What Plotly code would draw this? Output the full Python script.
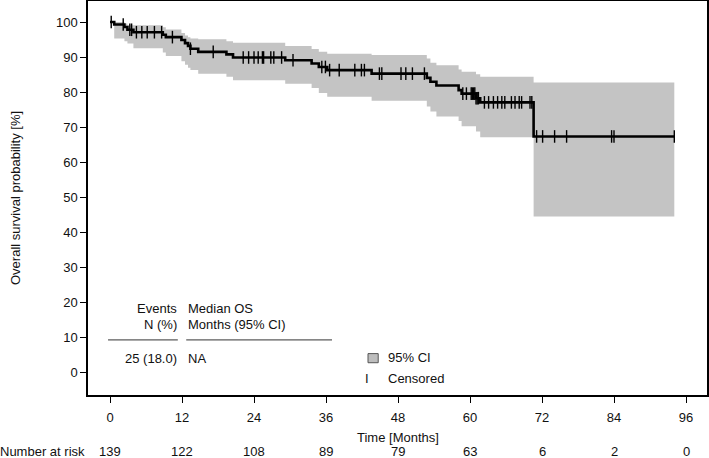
import numpy as np
import plotly.graph_objects as go

# ---- data ----
step_times = [0, 0.7, 2.4, 2.9, 3.9, 8.8, 9.3, 11.9, 12.5, 13.0, 13.4, 14.7, 19.4, 20.5,
              29.2, 33.6, 34.8, 36.2, 43.6, 52.8, 53.4, 54.4, 58.1, 58.6, 61.0, 61.7, 70.6]
surv = [100, 99.3, 98.6, 97.8, 97.1, 96.4, 95.7, 94.9, 94.0, 93.2, 92.4, 91.5, 90.8, 89.9,
        89.1, 88.2, 87.2, 86.3, 85.3, 84.1, 83.0, 81.9, 80.6, 79.6, 78.3, 77.1, 67.4]
ci_lower = [100, 95.3, 94.5, 93.9, 92.5, 91.3, 90.3, 88.8, 87.8, 87.0, 86.3, 85.3, 84.4, 83.4,
            82.4, 81.2, 79.8, 78.7, 77.6, 75.9, 74.5, 73.1, 71.8, 70.3, 68.8, 67.2, 44.6]
ci_upper = [100, 100, 99.6, 99.1, 99.1, 98.5, 97.9, 96.9, 96.2, 95.7, 95.3, 95.1, 94.5, 94.1,
            93.2, 92.3, 91.5, 91.0, 90.6, 89.6, 88.4, 87.7, 86.5, 85.8, 85.1, 84.4, 82.8]
t_end = 94.05
censor_times = [0.2, 2.2, 3.3, 3.6, 4.4, 5.3, 6.2, 7.4, 8.6, 10.4, 13.4, 17.2, 22.2, 23.1,
                24.0, 24.7, 25.4, 25.6, 26.8, 27.3, 28.6, 30.5, 35.3, 35.9, 36.6, 38.2,
                40.8, 41.9, 42.4, 44.9, 45.3, 48.5, 49.3, 50.4, 52.4, 58.8, 59.4, 60.2,
                60.4, 60.6, 60.8, 61.0, 61.2, 61.4, 62.4, 63.1, 63.9, 64.6, 65.3, 65.8,
                66.9, 67.5, 68.2, 68.6, 70.0, 70.3, 71.1, 72.1, 74.1, 76.1, 83.6, 84.0, 94.05]
tick_months = [0, 12, 24, 36, 48, 60, 72, 84, 96]
n_at_risk = [139, 122, 108, 89, 79, 63, 6, 2, 0]
y_ticks = list(range(0, 101, 10))
events_text = "25 (18.0)"
median_text = "NA"

FONT = "Liberation Sans, Arial, sans-serif"
FS = 13
BAND = "#c4c4c4"
TXT = "#111111"

st = np.array(step_times)
def surv_at(t):
    i = np.searchsorted(st, t, side="right") - 1
    return surv[i]

xs = step_times + [t_end]
fig = go.Figure()
fig.add_trace(go.Scatter(x=xs, y=ci_lower + [ci_lower[-1]], mode="lines", line_shape="hv",
                         line=dict(width=0, color=BAND), hoverinfo="skip", showlegend=False))
fig.add_trace(go.Scatter(x=xs, y=ci_upper + [ci_upper[-1]], mode="lines", line_shape="hv",
                         line=dict(width=0, color=BAND), fill="tonexty", fillcolor=BAND,
                         hoverinfo="skip", showlegend=False))
fig.add_trace(go.Scatter(x=xs, y=surv + [surv[-1]], mode="lines", line_shape="hv",
                         line=dict(width=2.6, color="black"), showlegend=False))
fig.add_trace(go.Scatter(x=censor_times, y=[surv_at(t) for t in censor_times], mode="markers",
                         marker=dict(symbol="line-ns-open", size=9, color="black",
                                     line=dict(width=1.4, color="black")),
                         showlegend=False))

ann = []
def A(x, y, text, xanchor="left", xref="x", yref="y", angle=0):
    ann.append(dict(x=x, y=y, xref=xref, yref=yref, text=text, showarrow=False,
                    xanchor=xanchor, yanchor="middle", textangle=angle,
                    font=dict(family=FONT, size=FS, color=TXT)))

# inset table
A(11.5, 18.3, "Events", "right")
A(11.5, 13.7, "N (%)", "right")
A(12.7, 18.3, "Median OS")
A(12.7, 13.7, "Months (95% CI)")
A(11.5, 4.0, events_text, "right")
A(12.7, 4.0, median_text)
# legend
A(46.0, 4.3, "95% CI")
A(42.8, -1.7, "I", "center")
A(46.0, -1.7, "Censored")
# axis titles
A((15 - 88) / 619, 0.5, "Overall survival probability [%]", "center", xref="paper", yref="paper", angle=-90)
A(0.5 * (tick_months[0] + tick_months[-1]), (394 - 436) / 393, "Time [Months]", "center", yref="paper")
# number at risk
A(-0.002, (394 - 450) / 393, "Number at risk", "right", xref="paper", yref="paper")
for t, n in zip(tick_months, n_at_risk):
    A(t, (394 - 450) / 393, str(n), "center", yref="paper")

shapes = [
    dict(type="line", x0=-0.33, x1=11.3, y0=9.4, y1=9.4, line=dict(color="#333", width=1)),
    dict(type="line", x0=12.7, x1=37.0, y0=9.4, y1=9.4, line=dict(color="#333", width=1)),
    dict(type="rect", x0=43.0, x1=44.7, y0=2.9, y1=5.5, fillcolor="#bdbdbd",
         line=dict(color="#555", width=1)),
]

axis_common = dict(showgrid=False, zeroline=False, showline=True, linecolor="black",
                   linewidth=1.5, mirror=True, ticks="outside", ticklen=6, tickwidth=1,
                   tickcolor="black", tickfont=dict(family=FONT, size=FS, color=TXT))
fig.update_layout(
    width=709, height=458, margin=dict(l=88, r=2, t=1, b=63),
    plot_bgcolor="white", paper_bgcolor="white",
    xaxis=dict(range=[-3.67, 99.5], tickvals=tick_months, automargin=False,
               ticklabelstandoff=4, **axis_common),
    yaxis=dict(range=[-6.3, 106], tickvals=y_ticks, automargin=False, **axis_common),
    annotations=ann, shapes=shapes, showlegend=False,
)
fig.write_html("out.html", config={"displayModeBar": False},
               post_script="document.body.style.margin='0px';document.body.style.padding='0px';")
